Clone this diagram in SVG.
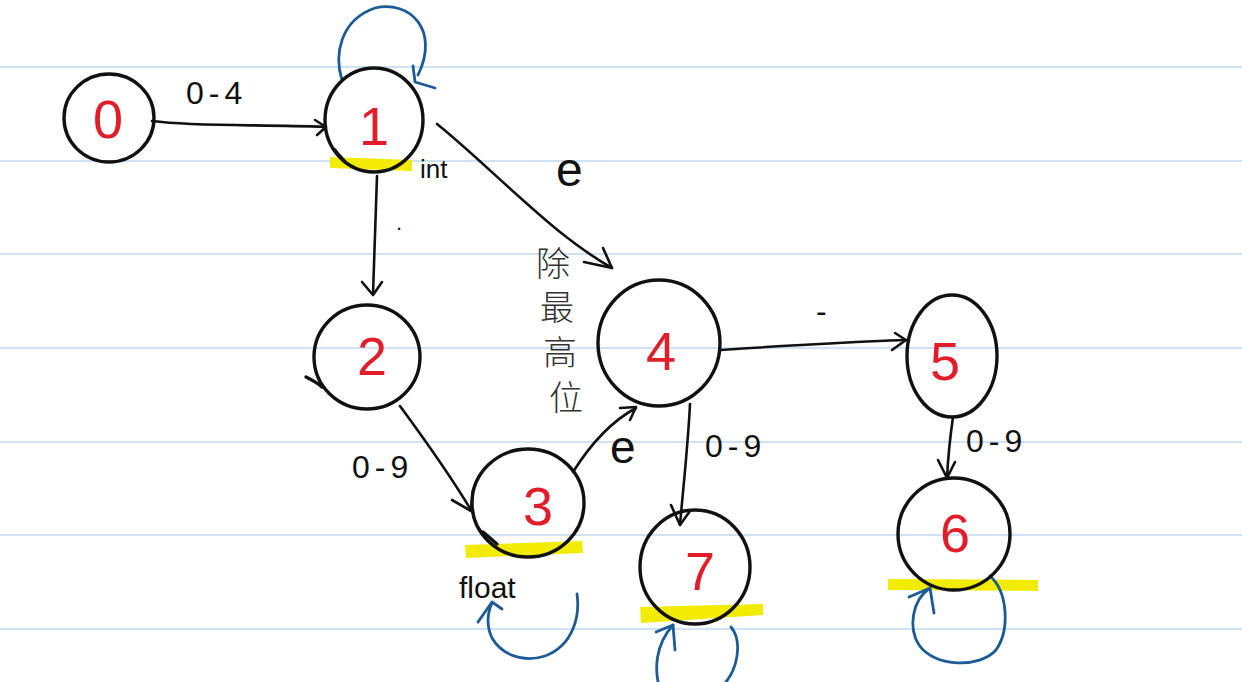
<svg xmlns="http://www.w3.org/2000/svg" width="1242" height="682" viewBox="0 0 1242 682">
<style>
.rule{stroke:#cfe2f3;stroke-width:2}
.node{fill:none;stroke:#111;stroke-width:3.4;stroke-linecap:round}
.num{font-family:"Liberation Sans",sans-serif;font-size:54px;fill:#e11d2a;text-anchor:middle}
.edge{fill:none;stroke:#111;stroke-width:2.6;stroke-linecap:round;stroke-linejoin:round}
.loop{fill:none;stroke:#1c5b96;stroke-width:2.8;stroke-linecap:round;stroke-linejoin:round}
.hl{fill:#f2ec05}
.lbl{font-family:"Liberation Sans",sans-serif;font-size:32px;fill:#111}
.rng{letter-spacing:5px}
.cjk{font-family:"Liberation Sans","Noto Sans CJK SC",sans-serif;font-size:34px;fill:#333;font-weight:300}
</style>
<rect width="1242" height="682" fill="#ffffff"/>
<g id="paper">
<line class="rule" x1="0" y1="67" x2="1242" y2="67"/>
<line class="rule" x1="0" y1="161" x2="1242" y2="161"/>
<line class="rule" x1="0" y1="254" x2="1242" y2="254"/>
<line class="rule" x1="0" y1="348" x2="1242" y2="348"/>
<line class="rule" x1="0" y1="442" x2="1242" y2="442"/>
<line class="rule" x1="0" y1="535" x2="1242" y2="535"/>
<line class="rule" x1="0" y1="629" x2="1242" y2="629"/>
</g>
<g id="highlights">
<polygon class="hl" points="330,157 412,160 412,171 330,168"/>
<polygon class="hl" points="465,545 582,541 583,553 466,558"/>
<polygon class="hl" points="640,607 763,604 763,615 641,623"/>
<polygon class="hl" points="888,579 1038,580 1038,591 888,590"/>
</g>
<g id="connectors">
<g id="e0-1">
<path class="edge" d="M152 121 C200 127 260 124 325 127"/>
<path class="edge" d="M315 120 L326 127 L317 135"/>
<text class="lbl rng" x="186" y="104">0-4</text>
</g>
<g id="e1-1">
<path class="loop" d="M342 80 C334 55 340 20 375 8 C410 0 440 30 418 75"/>
<path class="loop" d="M413 66 L415 82 L435 88"/>
</g>
<g id="e1-2">
<path class="edge" d="M377 176 C376 215 374 255 373 294"/>
<path class="edge" d="M362 282 L373 295 L382 282"/>
<text class="lbl" x="396" y="230" style="font-size:22px">.</text>
</g>
<g id="e1-4">
<path class="edge" d="M437 124 C470 150 520 200 560 232 C580 248 598 260 612 268"/>
<path class="edge" d="M584 262 L612 268 L603 248"/>
<text class="lbl" x="556" y="186" style="font-size:48px">e</text>
<g class="cjk">
<text x="553" y="276" text-anchor="middle">除</text>
<text x="557" y="320" text-anchor="middle">最</text>
<text x="560" y="365" text-anchor="middle">高</text>
<text x="566" y="410" text-anchor="middle">位</text>
</g>
</g>
<g id="e2-3">
<path class="edge" d="M400 406 C425 440 450 475 471 510"/>
<path class="edge" d="M452 500 L471 511 L473 490"/>
<text class="lbl rng" x="352" y="478">0-9</text>
</g>
<g id="e3-4">
<path class="edge" d="M573 472 C590 445 610 422 636 408"/>
<path class="edge" d="M620 408 L636 407 L630 420"/>
<text class="lbl" x="610" y="463" style="font-size:46px">e</text>
</g>
<g id="e4-5">
<path class="edge" d="M721 350 C780 346 850 342 906 340"/>
<path class="edge" d="M895 333 L906 340 L892 350"/>
<text class="lbl" x="816" y="322">-</text>
</g>
<g id="e4-7">
<path class="edge" d="M690 404 C688 445 683 490 680 525"/>
<path class="edge" d="M671 505 L680 525 L690 511"/>
<text class="lbl rng" x="705" y="457">0-9</text>
</g>
<g id="e5-6">
<path class="edge" d="M953 417 C950 438 948 458 947 478"/>
<path class="edge" d="M938 460 L947 478 L955 462"/>
<text class="lbl rng" x="966" y="452">0-9</text>
</g>
<g id="e3-3">
<path class="loop" d="M577 594 C580 615 574 645 545 656 C520 664 500 652 492 638 C486 625 488 612 492 603"/>
<path class="loop" d="M478 622 L492 602 L502 609"/>
</g>
<g id="e7-7">
<path class="loop" d="M731 627 C742 640 740 672 718 690 M660 690 C654 670 655 645 673 625"/>
<path class="loop" d="M656 632 L673 625 L675 650"/>
</g>
<g id="e6-6">
<path class="loop" d="M990 576 C1008 592 1010 630 996 650 C980 668 935 668 919 645 C908 628 912 600 930 588"/>
<path class="loop" d="M909 597 L930 588 L934 613"/>
</g>
</g>
<g id="n0">
<ellipse class="node" cx="109" cy="118" rx="45" ry="44"/>
<text class="num" x="108" y="138">0</text>
</g>
<g id="n1">
<ellipse class="node" cx="374" cy="120" rx="49" ry="52"/>
<path class="node" d="M335 150 C338 155 342 158 345 162"/>
<text class="num" x="374" y="145">1</text>
<text class="lbl" x="420" y="178" style="font-size:26px">int</text>
</g>
<g id="n2">
<ellipse class="node" cx="367" cy="357" rx="53" ry="52"/>
<path class="node" d="M306 377 C312 380 318 383 322 387"/>
<text class="num" x="372" y="375">2</text>
</g>
<g id="n3">
<ellipse class="node" cx="528" cy="503" rx="56" ry="54"/>
<path class="node" d="M483 532 C488 536 492 540 497 544"/>
<text class="num" x="538" y="525">3</text>
<text class="lbl" x="459" y="598" style="font-size:30px">float</text>
</g>
<g id="n4">
<ellipse class="node" cx="659" cy="343" rx="61" ry="63"/>
<text class="num" x="661" y="370">4</text>
</g>
<g id="n5">
<ellipse class="node" cx="952" cy="356" rx="45" ry="61"/>
<text class="num" x="945" y="380">5</text>
</g>
<g id="n6">
<ellipse class="node" cx="954" cy="534" rx="56" ry="56"/>
<text class="num" x="955" y="552">6</text>
</g>
<g id="n7">
<ellipse class="node" cx="695" cy="567" rx="55" ry="57"/>
<text class="num" x="700" y="590">7</text>
</g>
</svg>
